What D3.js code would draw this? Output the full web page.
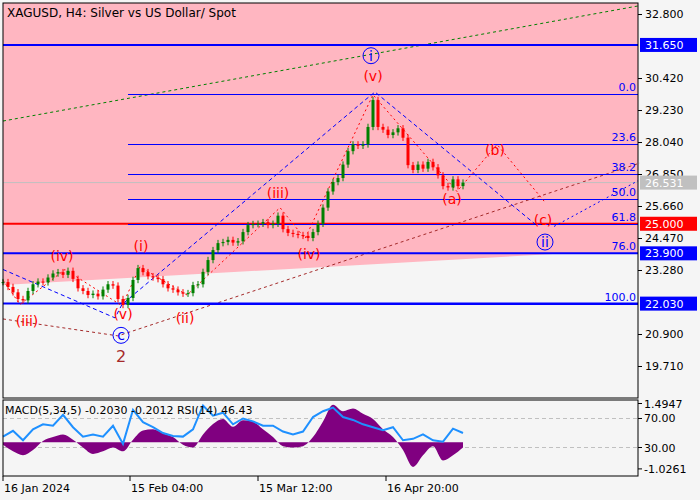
<!DOCTYPE html>
<html>
<head>
<meta charset="utf-8">
<script src="https://cdn.jsdelivr.net/npm/d3@7"></script>
<style>
  body { margin: 0; background: #f5f5f5; }
  text { font-family: "DejaVu Sans", sans-serif; }
</style>
</head>
<body>
<svg id="chart" width="700" height="500"></svg>
<script>
// close prices, one every ~5px bar step
const closes = [22.83,22.65,22.45,22.20,22.15,22.50,22.75,22.85,22.82,23.00,23.15,23.20,23.10,23.25,22.95,22.60,22.50,22.35,22.40,22.30,
  22.55,22.75,22.70,22.20,21.98,22.24,22.91,23.35,23.20,23.05,23.00,22.94,22.75,22.60,22.55,22.45,22.40,22.42,22.72,22.75,
  23.21,23.65,24.02,24.28,24.32,24.40,24.30,24.35,24.69,24.95,24.99,25.00,25.06,24.95,25.00,25.30,24.80,24.66,24.62,24.58,
  24.55,24.47,24.69,25.00,25.60,26.20,26.55,26.70,27.20,27.70,27.95,27.90,27.95,28.60,29.60,28.60,28.50,28.30,28.40,28.55,
  28.20,27.18,27.00,27.20,27.05,27.30,27.10,26.80,26.40,26.35,26.65,26.40,26.53];
const macd = [-0.1,-0.35,-0.5,-0.3,0.05,0.2,0.3,0.1,-0.2,-0.45,-0.35,-0.2,-0.35,0.1,0.45,0.5,0.35,0.2,-0.1,-0.2,
  0.3,0.7,0.9,0.6,0.85,0.8,0.5,0.2,-0.15,-0.2,-0.15,0.2,0.8,1.45,1.2,1.3,1.1,0.9,0.5,0.2,-0.3,-0.95,-0.5,-0.15,-0.7,-0.5,-0.2];
const rsi = [45,53,40,55,62,60,75,58,45,48,45,60,35,82,65,58,50,46,45,55,
  88,74,78,62,70,66,60,60,52,48,52,72,80,85,72,68,62,58,54,58,40,42,48,40,38,56,50];
const priceTicks = [32.8,30.42,29.23,28.04,26.85,25.66,24.47,23.28,20.90,19.71];
const fibLevels = [0,23.6,38.2,50,61.8,76,100];
const fibHigh = 29.82, fibLow = 22.03;
const keyLevels = [{p:31.65,c:"#0000ff"},{p:25.0,c:"#ff0000"},{p:23.9,c:"#0000ff"},{p:22.03,c:"#0000ff"}];
const lastPrice = 26.531;
const timeLabels = [{i:0,t:"16 Jan 2024"},{i:25.4,t:"15 Feb 04:00"},{i:51,t:"15 Mar 12:00"},{i:76.6,t:"16 Apr 20:00"}];
const redWave = [[0,22.9],[3.4,22.0],[12.4,23.3],[23.8,21.95],[27.4,23.4],[36.8,22.35],[55.4,25.6],[60.4,24.45],[74,29.8],[90.8,26.2],[98.8,27.95],[108.4,25.8]];
const blueWave = [[0,23.3],[22.4,21.5],[23.8,22.0],[72.4,29.6],[74.4,29.9],[107,24.9]];
const blueWave2 = [[110.2,24.9],[127,26.6]];
const brownLine = [[0,21.46],[23,20.83],[127.4,27.26]];
const greenLine = [[0,28.82],[127,33.1]];
const pinkEdge = [[0,22.72],[113.4,23.91],[127,23.91]];
const redLabels = [{i:11.8,p:23.6,t:"(iv)"},{i:27.6,p:24.0,t:"(i)"},{i:55,p:25.95,t:"(iii)"},{i:61.2,p:23.7,t:"(iv)"},{i:74,p:30.3,t:"(v)"},
  {i:4.8,p:21.2,t:"(iii)"},{i:24,p:21.45,t:"(v)"},{i:36.4,p:21.3,t:"(ii)"},{i:89.8,p:25.75,t:"(a)"},{i:98.4,p:27.55,t:"(b)"},{i:108,p:24.95,t:"(c)"}];
const circleLabels = [{i:73.6,p:31.25,t:"i"},{i:23.6,p:20.85,t:"c"},{i:108.4,p:24.32,t:"ii"}];

const svg = d3.select("#chart");
const L = 3, R = 638, T = 3, B = 398;
const x = d3.scaleLinear().domain([0, 127]).range([L, R]);
const y = d3.scaleLinear().domain([18.52, 33.21]).range([B, T]);

svg.append("rect").attr("width",700).attr("height",500).attr("fill","#f5f5f5");

// pink zone
const pinkPts = [[L, T], [R, T], [R, y(23.91)]].concat(pinkEdge.slice().reverse().map(d => [x(d[0]), y(d[1])]));
svg.append("path").attr("d", d3.line()(pinkPts)).attr("fill", "#ffb6c1");

const line = d3.line().x(d => x(d[0])).y(d => y(d[1]));
svg.append("path").attr("d", line(greenLine)).attr("stroke","#008000").attr("stroke-dasharray","3,3").attr("fill","none");
svg.append("path").attr("d", line(brownLine)).attr("stroke","#a52a2a").attr("stroke-dasharray","3,3").attr("fill","none");

// key levels
keyLevels.forEach(k => {
  svg.append("line").attr("x1",L).attr("x2",R).attr("y1",y(k.p)).attr("y2",y(k.p)).attr("stroke",k.c).attr("stroke-width",2);
});
// fib
const fx = x(25);
fibLevels.forEach(f => {
  const p = fibHigh - (fibHigh - fibLow) * f / 100;
  svg.append("line").attr("x1",fx).attr("x2",R).attr("y1",Math.round(y(p))+0.5).attr("y2",Math.round(y(p))+0.5).attr("stroke","#0000ff").attr("stroke-width",1);
  svg.append("text").attr("x",R-2).attr("y",y(p)-3).attr("text-anchor","end").attr("font-size",11).attr("fill","#0000ff").text(f.toFixed(1));
});
svg.append("line").attr("x1",L).attr("x2",R).attr("y1",y(lastPrice)).attr("y2",y(lastPrice)).attr("stroke","#c0c0c0");

svg.append("path").attr("d", line(blueWave)).attr("stroke","#0000ff").attr("stroke-dasharray","4,3").attr("fill","none");
svg.append("path").attr("d", line(blueWave2)).attr("stroke","#0000ff").attr("stroke-dasharray","2,3").attr("fill","none");
svg.append("path").attr("d", line(redWave)).attr("stroke","#ff0000").attr("stroke-dasharray","2,3").attr("fill","none");

// candles
const cw = 3;
closes.forEach((c, i) => {
  const o = i === 0 ? c : closes[i-1];
  const up = c >= o;
  const col = up ? "#008000" : "#ff0000";
  const hi = Math.max(o, c) + 0.12, lo = Math.min(o, c) - 0.12;
  svg.append("line").attr("x1",x(i)).attr("x2",x(i)).attr("y1",y(hi)).attr("y2",y(lo)).attr("stroke",col);
  svg.append("rect").attr("x",x(i)-cw/2).attr("width",cw)
    .attr("y",y(Math.max(o,c))).attr("height",Math.max(1, Math.abs(y(o)-y(c)))).attr("fill",col);
});

// wave labels
redLabels.forEach(d => {
  svg.append("text").attr("x",x(d.i)).attr("y",y(d.p)).attr("text-anchor","middle").attr("font-size",14)
    .attr("fill","#ff0000").text(d.t);
});
circleLabels.forEach(d => {
  svg.append("circle").attr("cx",x(d.i)).attr("cy",y(d.p)).attr("r",8).attr("fill","none").attr("stroke","#0000ff");
  svg.append("text").attr("x",x(d.i)).attr("y",y(d.p)+5).attr("text-anchor","middle").attr("font-size",14)
    .attr("fill","#0000ff").text(d.t);
});
svg.append("text").attr("x",x(23.6)).attr("y",y(20.85)+27).attr("text-anchor","middle").attr("font-size",16)
  .attr("fill","#a52a2a").text("2");

svg.append("text").attr("x",7).attr("y",17).attr("font-size",12).attr("fill","#000").text("XAGUSD, H4:  Silver vs US Dollar/ Spot");

// frame + right axis
svg.append("rect").attr("x",L).attr("y",T).attr("width",R-L).attr("height",B-T).attr("fill","none").attr("stroke","#000");
const yAxis = d3.axisRight(y).tickValues(priceTicks).tickFormat(d3.format(".3f")).tickSize(4).tickSizeOuter(0);
const ga = svg.append("g").attr("transform",`translate(${R},0)`).call(yAxis);
ga.select(".domain").remove();
ga.selectAll("text").attr("font-size",11).attr("font-family","DejaVu Sans");

const boxes = [{p:31.65,bg:"#0000ff",fg:"#fff"},{p:lastPrice,bg:"#c0c0c0",fg:"#fff"},{p:25.0,bg:"#ff0000",fg:"#fff"},{p:23.9,bg:"#0000ff",fg:"#fff"},{p:22.03,bg:"#0000ff",fg:"#fff"}];
boxes.forEach(b => {
  svg.append("rect").attr("x",R+2).attr("y",y(b.p)-7).attr("width",57).attr("height",14).attr("fill",b.bg);
  svg.append("text").attr("x",R+7).attr("y",y(b.p)+4).attr("font-size",11).attr("fill",b.fg).text(b.p.toFixed(3));
});

// lower panel
const PT = 400, PB = 476;
const xi = d3.scaleLinear().domain([0, 46]).range([x(0), x(92)]);
const ym = d3.scaleLinear().domain([-1.3, 1.63]).range([PB, PT]);
const yr = d3.scaleLinear().domain([-9.3, 95.5]).range([PB, PT]);
[70, 30].forEach(v => svg.append("line").attr("x1",L).attr("x2",R).attr("y1",yr(v)).attr("y2",yr(v))
  .attr("stroke","#c0c0c0").attr("stroke-dasharray","4,3"));
svg.append("path").datum(macd)
  .attr("d", d3.area().x((d,i) => xi(i)).y0(ym(0)).y1(d => ym(d)).curve(d3.curveMonotoneX))
  .attr("fill","#800080");
svg.append("path").datum(rsi)
  .attr("d", d3.line().x((d,i) => xi(i)).y(d => yr(d)))
  .attr("fill","none").attr("stroke","#1e90ff").attr("stroke-width",2);
svg.append("rect").attr("x",L).attr("y",PT).attr("width",R-L).attr("height",PB-PT).attr("fill","none").attr("stroke","#000");
svg.append("text").attr("x",5).attr("y",414).attr("font-size",11).text("MACD(5,34,5) -0.2030 -0.2012 RSI(14) 46.43");
[{v:"1.4947",yy:ym(1.4947)},{v:"70.00",yy:yr(70)},{v:"30.00",yy:yr(30)},{v:"-1.0261",yy:ym(-1.0261)}].forEach(t => {
  svg.append("line").attr("x1",R).attr("x2",R+4).attr("y1",t.yy).attr("y2",t.yy).attr("stroke","#000");
  svg.append("text").attr("x",R+6).attr("y",t.yy+4).attr("font-size",11).text(t.v);
});

// time axis
timeLabels.forEach(t => {
  svg.append("line").attr("x1",x(t.i)).attr("x2",x(t.i)).attr("y1",PB).attr("y2",PB+5).attr("stroke","#000");
  svg.append("text").attr("x",x(t.i)+1).attr("y",492).attr("font-size",11).text(t.t);
});
</script>
</body>
</html>
